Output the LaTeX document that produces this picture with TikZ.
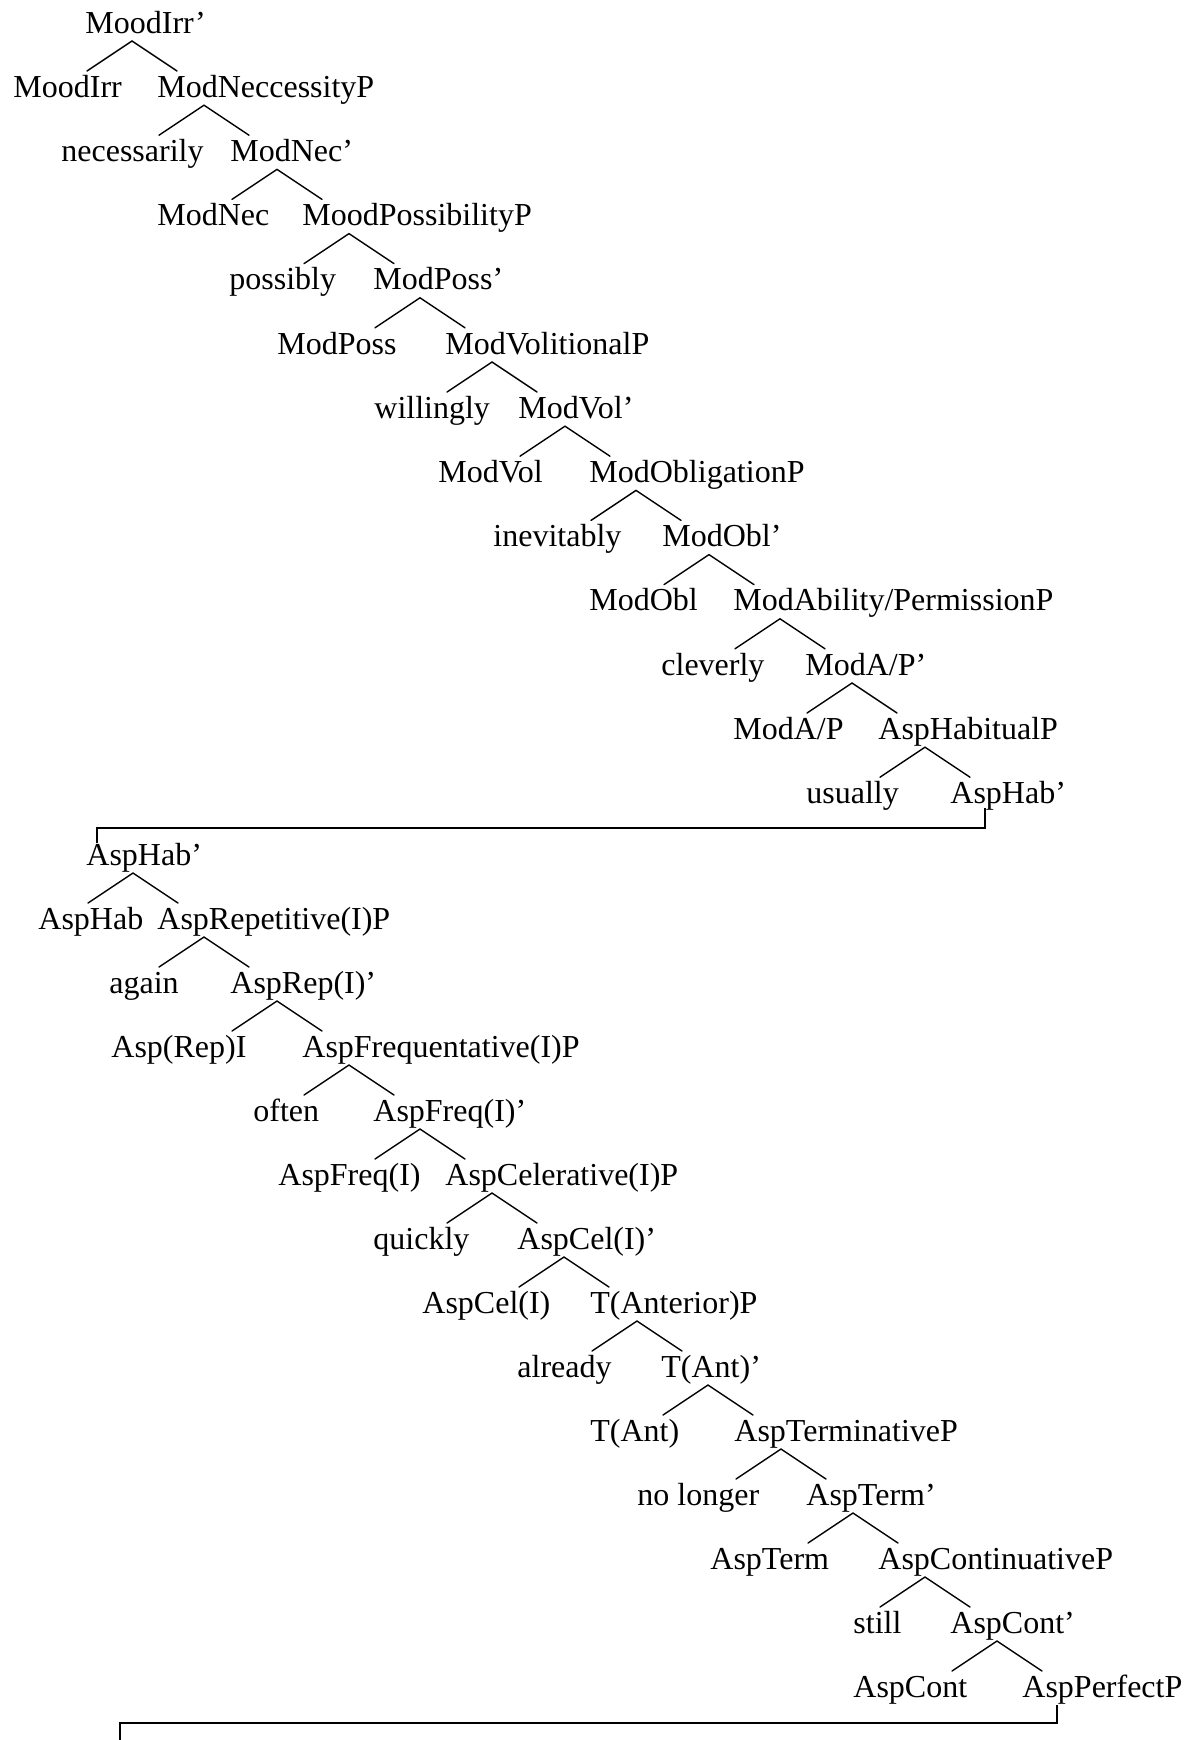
\documentclass[tikz,border=0pt]{standalone}
\usepackage{fontspec}
\setmainfont{Liberation Serif}
\usetikzlibrary{calc}

% Binary branch under a phrase label: apex just below the label, two arms.
\newcommand\treefork[1]{%
  \coordinate (#1-ap) at ($(#1.base west)+(47,8)$);
  \draw[branch] ($(#1-ap)+(-45,30)$) -- (#1-ap) -- ($(#1-ap)+(45,30)$);}

\begin{document}
\begin{tikzpicture}[x=0.5pt,y=-0.5pt,
  lbl/.style={anchor=base west,inner sep=0pt,font=\fontsize{16}{19}\selectfont},
  branch/.style={line width=0.7pt,line cap=round}]
\useasboundingbox (0,0) rectangle (1189,1740);

% ---------------- upper half: mood and modal projections ----------------
\node[lbl] (moodirrbar) at (85,33) {MoodIrr'};
\node[lbl] (moodirr)    at (13,97.2) {MoodIrr};
\node[lbl] (modnecp)    at (157,97.2) {ModNeccessityP};
\node[lbl] (necess)     at (61,161.4) {necessarily};
\node[lbl] (modnecbar)  at (230,161.4) {ModNec'};
\node[lbl] (modnec)     at (157,225.6) {ModNec};
\node[lbl] (modpossp)   at (302,225.6) {MoodPossibilityP};
\node[lbl] (possibly)   at (229,289.8) {possibly};
\node[lbl] (modpossbar) at (373,289.8) {ModPoss'};
\node[lbl] (modposs)    at (277,354) {ModPoss};
\node[lbl] (modvolp)    at (445,354) {ModVolitionalP};
\node[lbl] (willingly)  at (374,418.2) {willingly};
\node[lbl] (modvolbar)  at (518,418.2) {ModVol'};
\node[lbl] (modvol)     at (438,482.4) {ModVol};
\node[lbl] (modoblp)    at (589,482.4) {ModObligationP};
\node[lbl] (inevitably) at (493,546.6) {inevitably};
\node[lbl] (modoblbar)  at (662,546.6) {ModObl'};
\node[lbl] (modobl)     at (589,610.8) {ModObl};
\node[lbl] (modapp)     at (733,610.8) {ModAbility/PermissionP};
\node[lbl] (cleverly)   at (661,675) {cleverly};
\node[lbl] (modapbar)   at (805,675) {ModA/P'};
\node[lbl] (modap)      at (733,739.2) {ModA/P};
\node[lbl] (asphabp)    at (878,739.2) {AspHabitualP};
\node[lbl] (usually)    at (806,803.4) {usually};
\node[lbl] (asphabbarA) at (950,803.4) {AspHab'};

\foreach \n in {moodirrbar,modnecp,modnecbar,modpossp,modpossbar,modvolp,
                modvolbar,modoblp,modoblbar,modapp,modapbar,asphabp}
  {\treefork{\n}}

% ---------------- lower half: aspect and tense projections ----------------
\node[lbl] (asphabbarB) at (86,865) {AspHab'};
\node[lbl] (asphab)     at (38,929) {AspHab};
\node[lbl] (asprepp)    at (157,929) {AspRepetitive(I)P};
\node[lbl] (again)      at (109,993) {again};
\node[lbl] (asprepbar)  at (230,993) {AspRep(I)'};
\node[lbl] (asprep)     at (111,1057) {Asp(Rep)I};
\node[lbl] (aspfreqp)   at (302,1057) {AspFrequentative(I)P};
\node[lbl] (often)      at (253,1121) {often};
\node[lbl] (aspfreqbar) at (373,1121) {AspFreq(I)'};
\node[lbl] (aspfreq)    at (278,1185) {AspFreq(I)};
\node[lbl] (aspcelp)    at (445,1185) {AspCelerative(I)P};
\node[lbl] (quickly)    at (373,1249) {quickly};
\node[lbl] (aspcelbar)  at (517,1249) {AspCel(I)'};
\node[lbl] (aspcel)     at (422,1313) {AspCel(I)};
\node[lbl] (tantp)      at (590,1313) {T(Anterior)P};
\node[lbl] (already)    at (517,1377) {already};
\node[lbl] (tantbar)    at (661,1377) {T(Ant)'};
\node[lbl] (tant)       at (590,1441) {T(Ant)};
\node[lbl] (asptermp)   at (734,1441) {AspTerminativeP};
\node[lbl] (nolonger)   at (637,1505) {no longer};
\node[lbl] (asptermbar) at (806,1505) {AspTerm'};
\node[lbl] (aspterm)    at (710,1569) {AspTerm};
\node[lbl] (aspcontp)   at (878,1569) {AspContinuativeP};
\node[lbl] (still)      at (853,1633) {still};
\node[lbl] (aspcontbar) at (950,1633) {AspCont'};
\node[lbl] (aspcont)    at (853,1697) {AspCont};
\node[lbl] (aspperfp)   at (1022,1697) {AspPerfectP};

\foreach \n in {asphabbarB,asprepp,asprepbar,aspfreqp,aspfreqbar,aspcelp,
                aspcelbar,tantp,tantbar,asptermp,asptermbar,aspcontp,aspcontbar}
  {\treefork{\n}}

% ---------------- continuation links ----------------
\draw[branch,line cap=butt] ($(asphabbarA.base west)+(35,5)$)
  |- ($(asphabbarB.base west)+(11,-37)$) -- ($(asphabbarB.base west)+(11,-22)$);

\coordinate (onward) at (120,1740);
\draw[branch,line cap=butt] ($(aspperfp.base west)+(35,8)$)
  |- ($(onward)+(0,-17)$) -- (onward);
\end{tikzpicture}
\end{document}
